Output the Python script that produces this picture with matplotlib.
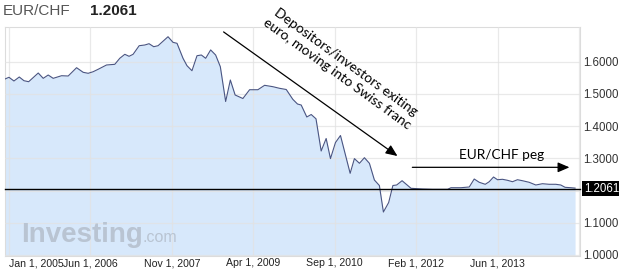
import matplotlib
matplotlib.use("Agg")
import matplotlib.pyplot as plt
import matplotlib.transforms as mtransforms

# months since Jan 1, 2005 and EUR/CHF rate
months = [-0.83, 0.0, 1.04, 2.15, 3.13, 4.11, 6.11, 7.15, 8.19, 9.23, 10.98, 12.36,
          14.11, 15.49, 16.53, 17.57, 18.61, 20.36, 22.09, 23.13, 24.18, 25.07, 25.91,
          27.18, 28.35, 29.24, 30.22, 31.12, 33.2, 34.24, 35.08, 36.33, 37.16, 38.2,
          39.25, 40.16, 41.06, 42.1, 43.14, 44.12, 45.23, 46.21, 47.21, 48.83, 50.23,
          51.96, 53.36, 55.09, 56.48, 57.88, 59.25, 60.23, 61.0, 62.17, 63.09, 64.09,
          65.17, 66.21, 67.11, 68.15, 69.2, 71.22, 72.11, 73.16, 74.2, 75.24, 76.28,
          77.32, 78.16, 79.26, 80.14, 80.93, 82.06, 83.93, 86.35, 88.43, 91.56, 92.27,
          94.35, 96.08, 97.12, 98.17, 99.42, 100.25, 101.15, 101.98, 103.02, 104.06,
          105.11, 106.15, 107.19, 108.59, 109.98, 111.36, 112.76, 114.15, 115.19,
          116.09, 117.28, 118.17]
rates = [1.5463, 1.5516, 1.5401, 1.5525, 1.5410, 1.5379, 1.5649, 1.5484, 1.5587, 1.5484,
         1.5565, 1.5556, 1.5814, 1.5671, 1.5640, 1.5689, 1.5764, 1.5898, 1.5919, 1.6106,
         1.6230, 1.6168, 1.6230, 1.6497, 1.6519, 1.6559, 1.6466, 1.6497, 1.6776, 1.6602,
         1.6571, 1.6106, 1.5876, 1.5720, 1.6186, 1.6208, 1.6106, 1.6366, 1.6208, 1.5845,
         1.4764, 1.5432, 1.4966, 1.4857, 1.5130, 1.5130, 1.5267, 1.5224, 1.5174, 1.5137,
         1.4832, 1.4686, 1.4655, 1.4283, 1.4360, 1.4227, 1.3227, 1.3615, 1.2991, 1.3488,
         1.3708, 1.2534, 1.2991, 1.2845, 1.3019, 1.2845, 1.2326, 1.2155, 1.1332, 1.1627,
         1.2155, 1.2171, 1.2304, 1.2068, 1.2047, 1.2037, 1.2037, 1.2087, 1.2087, 1.2109,
         1.2357, 1.2255, 1.2193, 1.2273, 1.2419, 1.2335, 1.2348, 1.2317, 1.2273, 1.2335,
         1.2304, 1.2255, 1.2171, 1.2211, 1.2193, 1.2193, 1.2171, 1.2099, 1.2087, 1.2075]

last_price = 1.2061
tick_months = [0, 17, 34, 51, 68, 85, 102, 119]
tick_labels = ["Jan 1, 2005", "Jun 1, 2006", "Nov 1, 2007", "Apr 1, 2009",
               "Sep 1, 2010", "Feb 1, 2012", "Jun 1, 2013", ""]
y_ticks = [1.0, 1.1, 1.2, 1.3, 1.4, 1.5, 1.6]
y_labels = ["1.0000", "1.1000", "", "1.3000", "1.4000", "1.5000", "1.6000"]

plt.rcParams["font.family"] = ["Liberation Sans", "DejaVu Sans"]

W, H = 619, 274
fig = plt.figure(figsize=(W / 100, H / 100), dpi=100)
ax = fig.add_axes([5 / W, 1 - 256 / H, 575 / W, 229 / H])

ax.fill_between(months, rates, 0.9, color="#d7e8fb", lw=0, zorder=1)
ax.plot(months, rates, color="#4a5582", lw=0.8, zorder=3)
ax.axhline(last_price, color="black", lw=1.0, zorder=4, clip_on=False)

ax.set_xlim(-0.83, 119.2)
ax.set_ylim(0.9966, 1.7078)
ax.set_xticks(tick_months)
ax.set_xticklabels(tick_labels)
ax.set_yticks(y_ticks)
ax.set_yticklabels(y_labels)
ax.yaxis.tick_right()
ax.tick_params(axis="x", length=0, pad=1.5, labelsize=7.6, colors="#222222")
ax.tick_params(axis="y", length=0, pad=2.3, labelsize=8.3, colors="#333333")
ax.get_xticklabels()[0].set_horizontalalignment("left")
ax.grid(True, color="#e2e2e2", lw=0.9, alpha=0.75, zorder=2)
ax.set_axisbelow(False)
for s in ax.spines.values():
    s.set_color("#dcdcdc")
    s.set_linewidth(0.8)

# last price box
trans = mtransforms.blended_transform_factory(ax.transAxes, ax.transData)
ax.text(1.007, last_price, f"{last_price:.4f}", transform=trans, ha="left", va="center",
        fontsize=8.3, color="white", zorder=6,
        bbox=dict(fc="black", ec="none", pad=1.3))

# title
fig.text(3 / W, 1 - 11 / H, "EUR/CHF", fontsize=11, color="#555555", va="center")
fig.text(90 / W, 1 - 11 / H, f"{last_price:.4f}", fontsize=11, color="#222222",
         fontweight="bold", va="center")

# watermark
fig.text(21 / W, 1 - 241.5 / H, "Investing", fontsize=20, fontweight="bold",
         color="#b9c4d2", va="baseline", zorder=2)
fig.text(142 / W, 1 - 241.5 / H, ".com", fontsize=11.5, color="#b9c4d2",
         va="baseline", zorder=2)

# annotations
ax.annotate("", xy=(81.1, 1.307), xytext=(44.8, 1.6925),
            arrowprops=dict(arrowstyle="-|>,head_length=0.7,head_width=0.3",
                            color="black", lw=0.9, shrinkA=0, shrinkB=0), zorder=5)
ax.text(69.4, 1.580, "Depositors/investors exiting\neuro, moving into Swiss franc",
        rotation=-36, rotation_mode="anchor", ha="center", va="center",
        fontsize=10.0, family="Lato", linespacing=1.25, zorder=5)
ax.annotate("", xy=(117.0, 1.272), xytext=(84.2, 1.272),
            arrowprops=dict(arrowstyle="-|>,head_length=0.7,head_width=0.3",
                            color="black", lw=0.9, shrinkA=0, shrinkB=0), zorder=5)
ax.text(102.8, 1.310, "EUR/CHF peg", ha="center", va="center", fontsize=9.8,
        family="Lato", zorder=5)

fig.savefig("out.png", dpi=100)
